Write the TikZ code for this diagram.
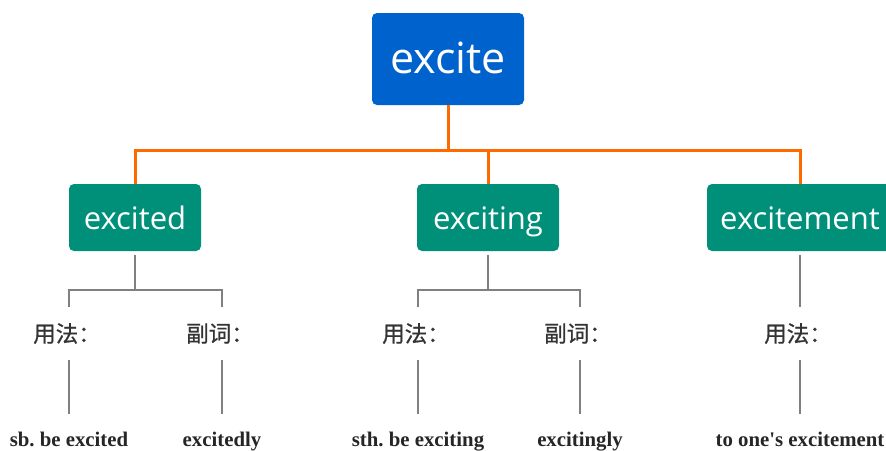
\documentclass[tikz,border=0pt]{standalone}
\usepackage{fontspec}
\setmainfont{Open Sans}
\newfontfamily\cjk[FakeBold=0.8]{Noto Sans CJK SC}
\newfontfamily\tnr{Liberation Serif}
\frenchspacing
\definecolor{topblue}{HTML}{0062CC}
\definecolor{boxgreen}{HTML}{00907A}
\definecolor{conorange}{HTML}{FF6A00}
\definecolor{linegray}{HTML}{808080}
\definecolor{labelgray}{HTML}{333333}
\tikzset{
  topbox/.style={fill=topblue, rounded corners=5pt, text=white, font=\fontsize{43}{50}\selectfont,
    minimum width=152pt, minimum height=92pt, inner sep=0pt, text height=32pt, text depth=3pt},
  greenbox/.style={fill=boxgreen, rounded corners=5pt, text=white, font=\fontsize{31}{36}\selectfont,
    minimum height=67pt, inner sep=0pt, text height=27pt, text depth=2.4pt},
  olink/.style={draw=conorange, line width=3pt},
  glink/.style={draw=linegray, line width=1.5pt},
  lbl/.style={text=labelgray, font=\cjk\fontsize{22.5}{26}\selectfont, minimum height=53pt, inner sep=0pt},
  usage/.style={text=black!85, font=\tnr\bfseries\fontsize{20.8}{24}\selectfont, anchor=base, inner sep=0pt},
}
\begin{document}
\begin{tikzpicture}[x=1pt,y=-1pt]
\clip (0,0) rectangle (886,450);
\fill[white] (0,0) rectangle (886,450);
\node[topbox] (top) at (448,59) {excite};
\node[greenbox, minimum width=132pt] (b1) at (135,217.5) {excited};
\node[greenbox, minimum width=142pt] (b2) at (488,217.5) {exciting};
\node[greenbox, minimum width=186pt] (b3) at (800,217.5) {excitement};
\coordinate (bus) at (448,150);
\draw[olink] (top.south) -- (bus);
\draw[olink] (b1.north) |- (bus) -| (b3.north);
\draw[olink] (b2.north) -- (b2.north |- bus);
% labels
\node[lbl] (u1) at (67,333.5) {用法：};
\node[lbl] (a1) at (220,333.5) {副词：};
\node[lbl] (u2) at (416,333.5) {用法：};
\node[lbl] (a2) at (578,333.5) {副词：};
\node[lbl] (u3) at (798,333.5) {用法：};
% usage text
\node[usage] (d1) at (69,446) {sb. be excited};
\node[usage] (e1) at (222,446) {excitedly};
\node[usage] (d2) at (418,446) {sth. be exciting};
\node[usage] (e2) at (580,446) {excitingly};
\node[usage] (d3) at (800,446) {to one's excitement};
% gray tree lines
\coordinate (j1) at (135,290);
\coordinate (j2) at (488,290);
\coordinate (p1) at (69,307);
\coordinate (p2) at (222,307);
\coordinate (p3) at (418,307);
\coordinate (p4) at (580,307);
\coordinate (q1) at (69,360);
\coordinate (q2) at (222,360);
\coordinate (q3) at (418,360);
\coordinate (q4) at (580,360);
\coordinate (q5) at (800,360);
\draw[glink, shorten <=4pt] (b1.south) -- (j1);
\draw[glink] (p1) |- (j1) -| (p2);
\draw[glink, shorten <=4pt] (b2.south) -- (j2);
\draw[glink] (p3) |- (j2) -| (p4);
\draw[glink, shorten <=4pt] (b3.south) -- (u3.north -| b3.south);
\foreach \a/\b in {q1/d1,q2/e1,q3/d2,q4/e2,q5/d3}
  \draw[glink, shorten >=17pt] (\a) -- (\b.north);
\end{tikzpicture}
\end{document}
